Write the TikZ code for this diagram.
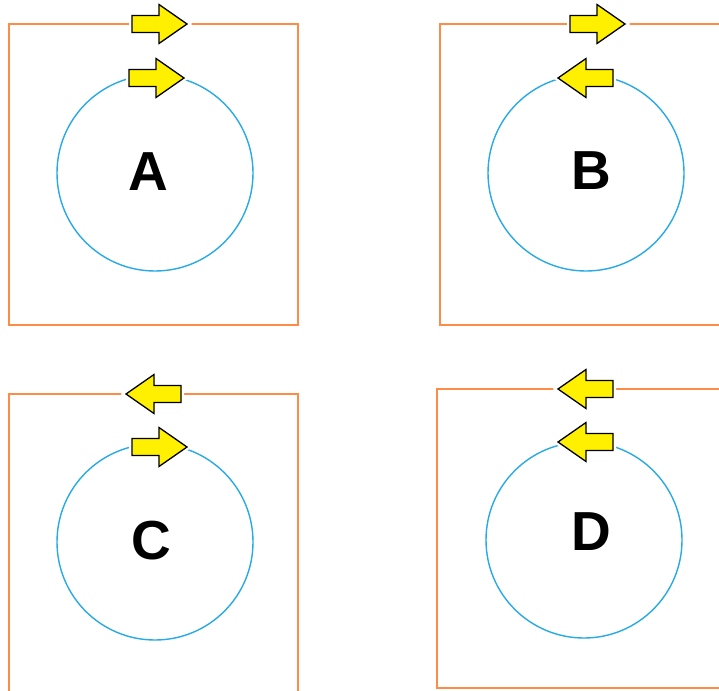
\documentclass[tikz,border=0pt]{standalone}
\usepackage{fontspec}
\setmainfont{Liberation Sans}
\definecolor{boxorange}{RGB}{255,140,70}
\definecolor{ringblue}{RGB}{40,170,230}
\definecolor{arrowyellow}{RGB}{255,240,0}
\tikzset{
    rarrow/.pic={
        \draw[black, line width=1.3pt, fill=arrowyellow, line join=miter,
              preaction={draw=white, line width=6pt}]
            (-55,-8.5) -- (-28,-8.5) -- (-28,-19.5) -- (0,0) -- (-28,19.5)
            -- (-28,8.5) -- (-55,8.5) -- cycle;
    }
}
\begin{document}
\begin{tikzpicture}[x=1pt, y=-1pt]
    % Define styles
    \tikzstyle{boxline}=[draw=boxorange, line width=1.8pt]
    \tikzstyle{ringline}=[draw=ringblue, line width=1.4pt]
    \tikzstyle{letter}=[font=\fontsize{55}{64}\selectfont\bfseries, inner sep=0pt]

    \clip (0,0) rectangle (719,690);
    \fill[white] (0,0) rectangle (719,690);

    % Panel A
    \draw[boxline] (9,24) rectangle (298,325);
    \draw[ringline] (155,173) circle (98);
    \node[letter] (labA) at (148,172) {A};
    \pic at (187,24) {rarrow};
    \pic at (184,78) {rarrow};

    % Panel B
    \draw[boxline] (440,24) rectangle (760,325);
    \draw[ringline] (586,173) circle (98);
    \node[letter] (labB) at (591,171) {B};
    \pic at (625,24) {rarrow};
    \pic[xscale=-1] at (558,78) {rarrow};

    % Panel C
    \draw[boxline] (9,394) rectangle (298,720);
    \draw[ringline] (155,542) circle (98);
    \node[letter] (labC) at (151,541) {C};
    \pic[xscale=-1] at (126,394) {rarrow};
    \pic at (187,447) {rarrow};

    % Panel D
    \draw[boxline] (437,389) rectangle (760,688);
    \draw[ringline] (584,540) circle (98);
    \node[letter] (labD) at (591,532) {D};
    \pic[xscale=-1] at (558,389) {rarrow};
    \pic[xscale=-1] at (558,442) {rarrow};

\end{tikzpicture}
\end{document}
